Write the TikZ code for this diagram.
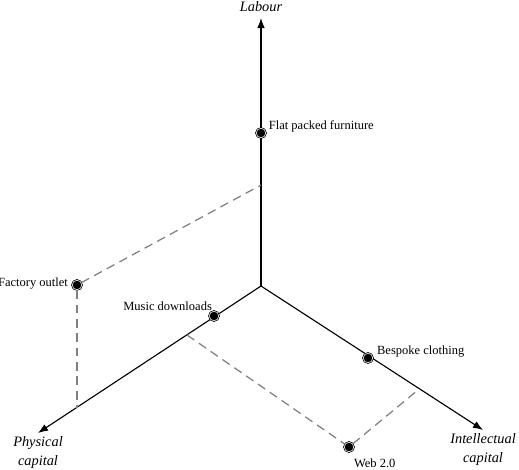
\documentclass[tikz,border=0pt]{standalone}
\usepackage{fontspec}
\setmainfont{Liberation Serif}
\usetikzlibrary{arrows.meta, positioning}

\tikzset{
  axis/.style={line width=0.9pt, -{Latex[length=8pt,width=6pt]}},
  guide/.style={gray, line width=1pt, dash pattern=on 7pt off 4.5pt},
  dot/.style={circle, inner sep=0pt, minimum size=7.6pt, fill=black, draw=black,
    line width=0.6pt, double=white, double distance=0.45pt},
  lbl/.style={inner sep=1pt},
  axlbl/.style={inner sep=1pt, align=center, font=\fontsize{11.5}{14.5}\selectfont\itshape}
}

\begin{document}
\begin{tikzpicture}[x=0.8pt, y=-0.8pt]
  \useasboundingbox (0,0) rectangle (519,469);

  % axes
  \coordinate (O) at (261,286);
  \coordinate (ltip) at (261,18);
  \coordinate (ptip) at (38,433);
  \coordinate (itip) at (483,430);
  \draw[axis] (O) -- (ltip);
  \draw[axis] (O) -- (ptip);
  \draw[axis] (O) -- (itip);
  \node[axlbl, above=3.5pt of ltip] (labour) {Labour};
  \node[axlbl, below=2pt of ptip] (physical) {Physical\\capital};
  \node[axlbl, below=2pt of itip] (intellectual) {Intellectual\\capital};

  % projections
  \coordinate (foL) at (261,185);
  \coordinate (foP) at (77,408);
  \coordinate (webP) at (187,335);
  \coordinate (webI) at (418,390);

  % products
  \node[dot] (fpf) at (261,133) {};
  \node[dot] (fo) at (77,285) {};
  \node[dot] (md) at (214,316) {};
  \node[dot] (bc) at (368,358) {};
  \node[dot] (web) at (349,447) {};

  \draw[guide] (fo) -- (foL);
  \draw[guide] (fo) -- (foP);
  \draw[guide] (webP) -- (web);
  \draw[guide] (web) -- (webI);

  \node[lbl, right=1pt of fpf, yshift=5.5pt] (fpflbl) {Flat packed furniture};
  \node[lbl, left=2pt of fo, yshift=1.5pt] (folbl) {Factory outlet};
  \node[lbl, above left=0pt and -2.4pt of md] (mdlbl) {Music downloads};
  \node[lbl, right=2pt of bc, yshift=5pt] (bclbl) {Bespoke clothing};
  \node[lbl, below right=5.5pt and 0pt of web] (weblbl) {Web 2.0};
\end{tikzpicture}
\end{document}
